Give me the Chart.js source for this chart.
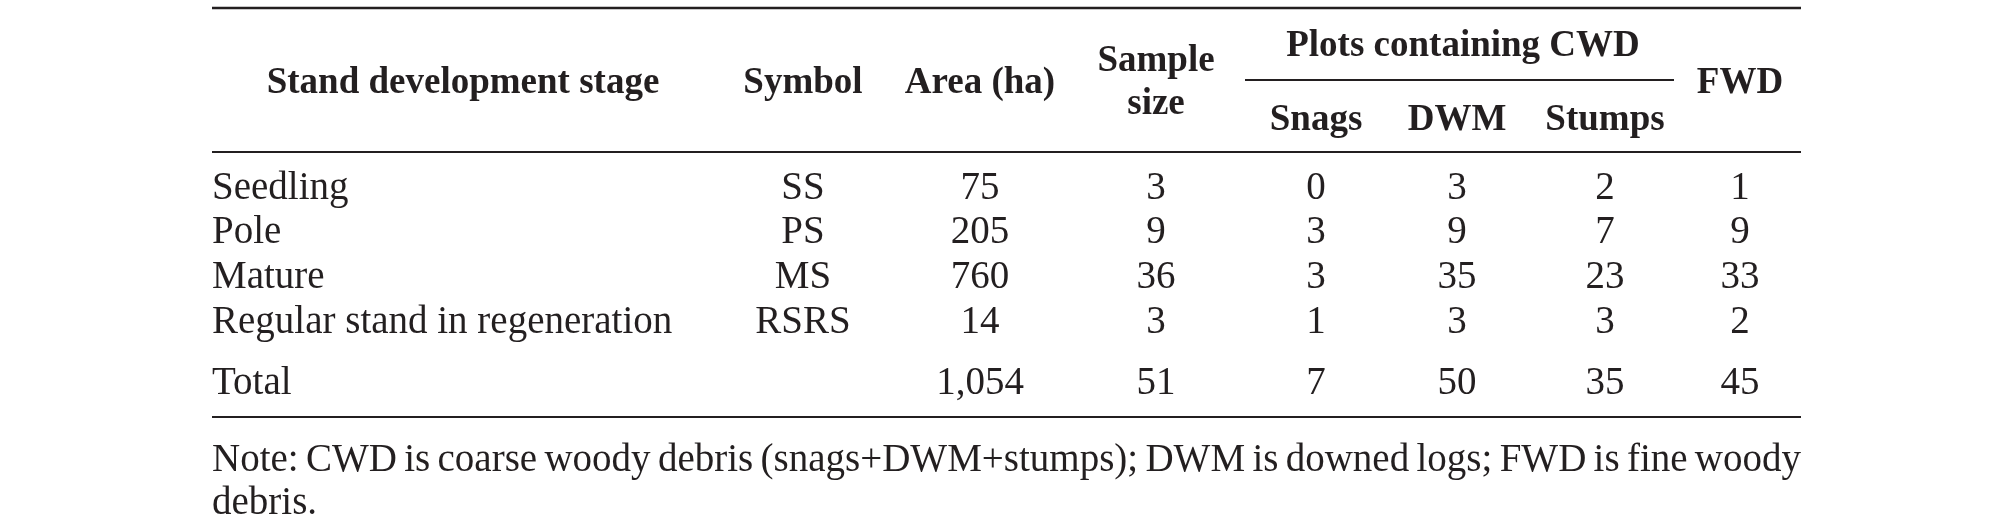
<!DOCTYPE html>
<html>
<head>
<meta charset="utf-8">
<script src="https://cdn.jsdelivr.net/npm/chart.js@4.4.1/dist/chart.umd.min.js"></script>
<style>
  html, body { margin: 0; padding: 0; background: #fff; }
  canvas { display: block; }
</style>
</head>
<body>
<canvas id="tbl" width="2013" height="523"></canvas>
<script>
// Table values
const stages     = ['Seedling', 'Pole', 'Mature', 'Regular stand in regeneration', 'Total'];
const symbols    = ['SS', 'PS', 'MS', 'RSRS', ''];
const areaHa     = [75, 205, 760, 14, 1054];
const sampleSize = [3, 9, 36, 3, 51];
const snags      = [0, 3, 3, 1, 7];
const dwm        = [3, 9, 35, 3, 50];
const stumps     = [2, 7, 23, 3, 35];
const fwd        = [1, 9, 33, 2, 45];

const headLabels = ['Stand development stage', 'Symbol', 'Area (ha)', 'Sample', 'size',
                    'Plots containing CWD', 'Snags', 'DWM', 'Stumps', 'FWD'];
const noteText = 'Note: CWD is coarse woody debris (snags+DWM+stumps); DWM is downed logs; FWD is fine woody debris.';

// Layout (canvas units, the scales run 0..2013 and 0..523)
const COL_X    = [212, 803, 980, 1156, 1316, 1457, 1605, 1740];
const ROW_BASE = [199, 243, 288, 333, 394];
const HEAD_POS = [[463, 93], [803, 93], [980, 93], [1156, 71], [1156, 114],
                  [1463, 56], [1316, 130], [1457, 130], [1605, 130], [1740, 93]];
const RULES    = [[212, 1801, 8, 2.6], [1245, 1674, 80, 2.2], [212, 1801, 152, 2.2], [212, 1801, 417, 2.2]];
const NOTE_BASE = [471, 514];
const INK = '#231f20';
const BODY_FONT = '39px "Liberation Serif", "Times New Roman", serif';
const HEAD_FONT = 'bold 37px "Liberation Serif", "Times New Roman", serif';

const fmt = v => v.toLocaleString('en-US');
const columns = [stages, symbols, areaHa.map(fmt), sampleSize.map(fmt),
                 snags.map(fmt), dwm.map(fmt), stumps.map(fmt), fwd.map(fmt)];

const datasets = columns.map((col, c) => ({
  label: 'col' + c,
  data: col.map((txt, r) => ({ x: COL_X[c], y: ROW_BASE[r], txt })),
  pointRadius: 0,
  pointHoverRadius: 0,
}));

const tablePlugin = {
  id: 'tableText',
  afterDatasetsDraw(chart) {
    const { ctx, scales: { x, y } } = chart;
    ctx.save();
    ctx.fillStyle = INK;
    ctx.strokeStyle = INK;
    ctx.textBaseline = 'alphabetic';

    // horizontal rules
    RULES.forEach(([x0, x1, yy, w]) => {
      ctx.lineWidth = w;
      ctx.beginPath();
      ctx.moveTo(x.getPixelForValue(x0), y.getPixelForValue(yy));
      ctx.lineTo(x.getPixelForValue(x1), y.getPixelForValue(yy));
      ctx.stroke();
    });

    // header
    ctx.font = HEAD_FONT;
    ctx.textAlign = 'center';
    headLabels.forEach((t, i) => {
      ctx.fillText(t, x.getPixelForValue(HEAD_POS[i][0]), y.getPixelForValue(HEAD_POS[i][1]));
    });

    // body cells
    ctx.font = BODY_FONT;
    chart.data.datasets.forEach((ds, c) => {
      ctx.textAlign = c === 0 ? 'left' : 'center';
      chart.getDatasetMeta(c).data.forEach((pt, r) => {
        ctx.fillText(ds.data[r].txt, pt.x, pt.y);
      });
    });

    // note, first line justified to the table width
    const left = x.getPixelForValue(RULES[0][0]);
    const right = x.getPixelForValue(RULES[0][1]);
    const words = noteText.split(' ');
    const lastWord = words.pop();
    const widths = words.map(w => ctx.measureText(w).width);
    const gap = (right - left - widths.reduce((a, b) => a + b, 0)) / (words.length - 1);
    ctx.textAlign = 'left';
    let cx = left;
    words.forEach((w, i) => {
      ctx.fillText(w, cx, y.getPixelForValue(NOTE_BASE[0]));
      cx += widths[i] + gap;
    });
    ctx.fillText(lastWord, left, y.getPixelForValue(NOTE_BASE[1]));
    ctx.restore();
  }
};

new Chart(document.getElementById('tbl'), {
  type: 'scatter',
  data: { datasets },
  options: {
    animation: false, responsive: false, devicePixelRatio: 1,
    layout: { padding: 0 },
    plugins: { legend: { display: false }, tooltip: { enabled: false } },
    events: [],
    scales: {
      x: { type: 'linear', min: 0, max: 2013, display: false },
      y: { type: 'linear', min: 0, max: 523, reverse: true, display: false },
    },
  },
  plugins: [tablePlugin],
});
</script>
</body>
</html>
